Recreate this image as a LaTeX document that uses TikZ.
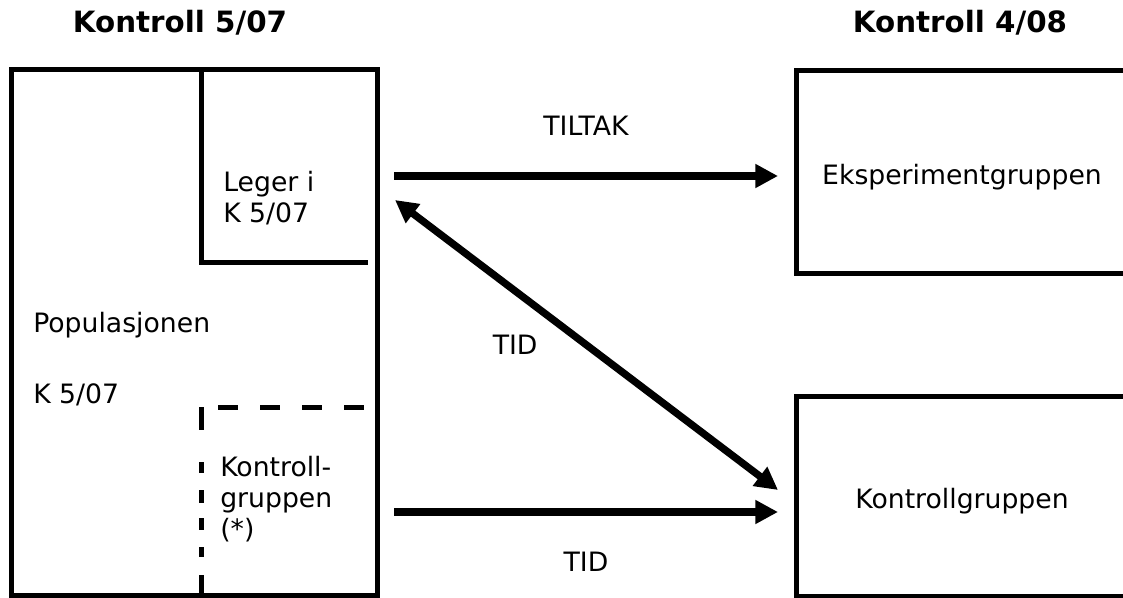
\documentclass[tikz,border=0pt]{standalone}
\usepackage{fontspec}
\setmainfont{DejaVu Sans}
\usetikzlibrary{arrows.meta}

\tikzset{
  linje/.style={line width=3.75pt},
  boks/.style={draw, linje, minimum width=249pt, anchor=north west, inner sep=0pt, outer sep=0pt,
    font=\tekstfont, text height=23pt, text depth=4.5pt},
  tekst/.style={font=\tekstfont, align=left, inner sep=0pt},
  tittel/.style={font=\bfseries\fontsize{22}{26}\selectfont, inner sep=0pt, anchor=base},
  pil/.style={line width=6pt, -{Triangle[length=17pt,width=17pt]}},
  dobbelpil/.style={line width=5.5pt, {Triangle[length=17pt,width=17pt]}-{Triangle[length=17pt,width=17pt]}},
}
\newcommand\tekstfont{\fontsize{20}{23.25}\selectfont}

\begin{document}
\begin{tikzpicture}[x=0.75pt, y=-0.75pt]

\path[use as bounding box] (0,0) rectangle (1123,598);
\clip (0,0) rectangle (1123,598);

\def\populasjon{(11,70) rectangle (377,595)}
\def\legerhjorne{(201,70) -- (201,263) -- (368,263)}

\draw[linje] \populasjon;
\draw[linje] \legerhjorne;
\draw[linje, dash pattern=on 15pt off 16.5pt] (218,407) -- (368,407);
\draw[linje, dash pattern=on 17.25pt off 24pt on 8.25pt off 12.75pt on 9.75pt off 11.25pt
  on 9pt off 12.75pt on 7.5pt off 13.5pt on 16.5pt off 1pt] (201,407) -- (201,597);

\node[tittel] (tittel5) at (180,33) {Kontroll 5/07};
\node[tittel] (tittel4) at (960,33) {Kontroll 4/08};

\node[tekst, anchor=base west] (leger) at (223,223) {Leger i\\K 5/07};
\node[tekst, anchor=base west] (pop) at (33,332) {Populasjonen};
\node[tekst, anchor=base west] (popk) at (33,403) {K 5/07};
\node[tekst, anchor=base west] (kgr) at (220,538) {Kontroll-\\gruppen\\(*)};

\node[boks, minimum height=152.25pt] (eksp) at (796,71) {Eksperimentgruppen};
\node[boks, minimum height=150pt] (kontr) at (796,396) {Kontrollgruppen};

\coordinate (tiltakfra) at (394,176);
\coordinate (tiltaktil) at (778,176);
\coordinate (tidfra) at (395,200);
\coordinate (tidtil) at (778,490);
\coordinate (kontrfra) at (394,512);
\coordinate (kontrtil) at (778,512);

\draw[pil] (tiltakfra) -- (tiltaktil) node[tekst, midway, above=27pt] (tiltak) {TILTAK};
\draw[dobbelpil] (tidfra) -- (tidtil) node[tekst, midway, left=34pt] (tid) {TID};
\draw[pil] (kontrfra) -- (kontrtil) node[tekst, midway, below=27pt] (tid2) {TID};

\end{tikzpicture}
\end{document}
